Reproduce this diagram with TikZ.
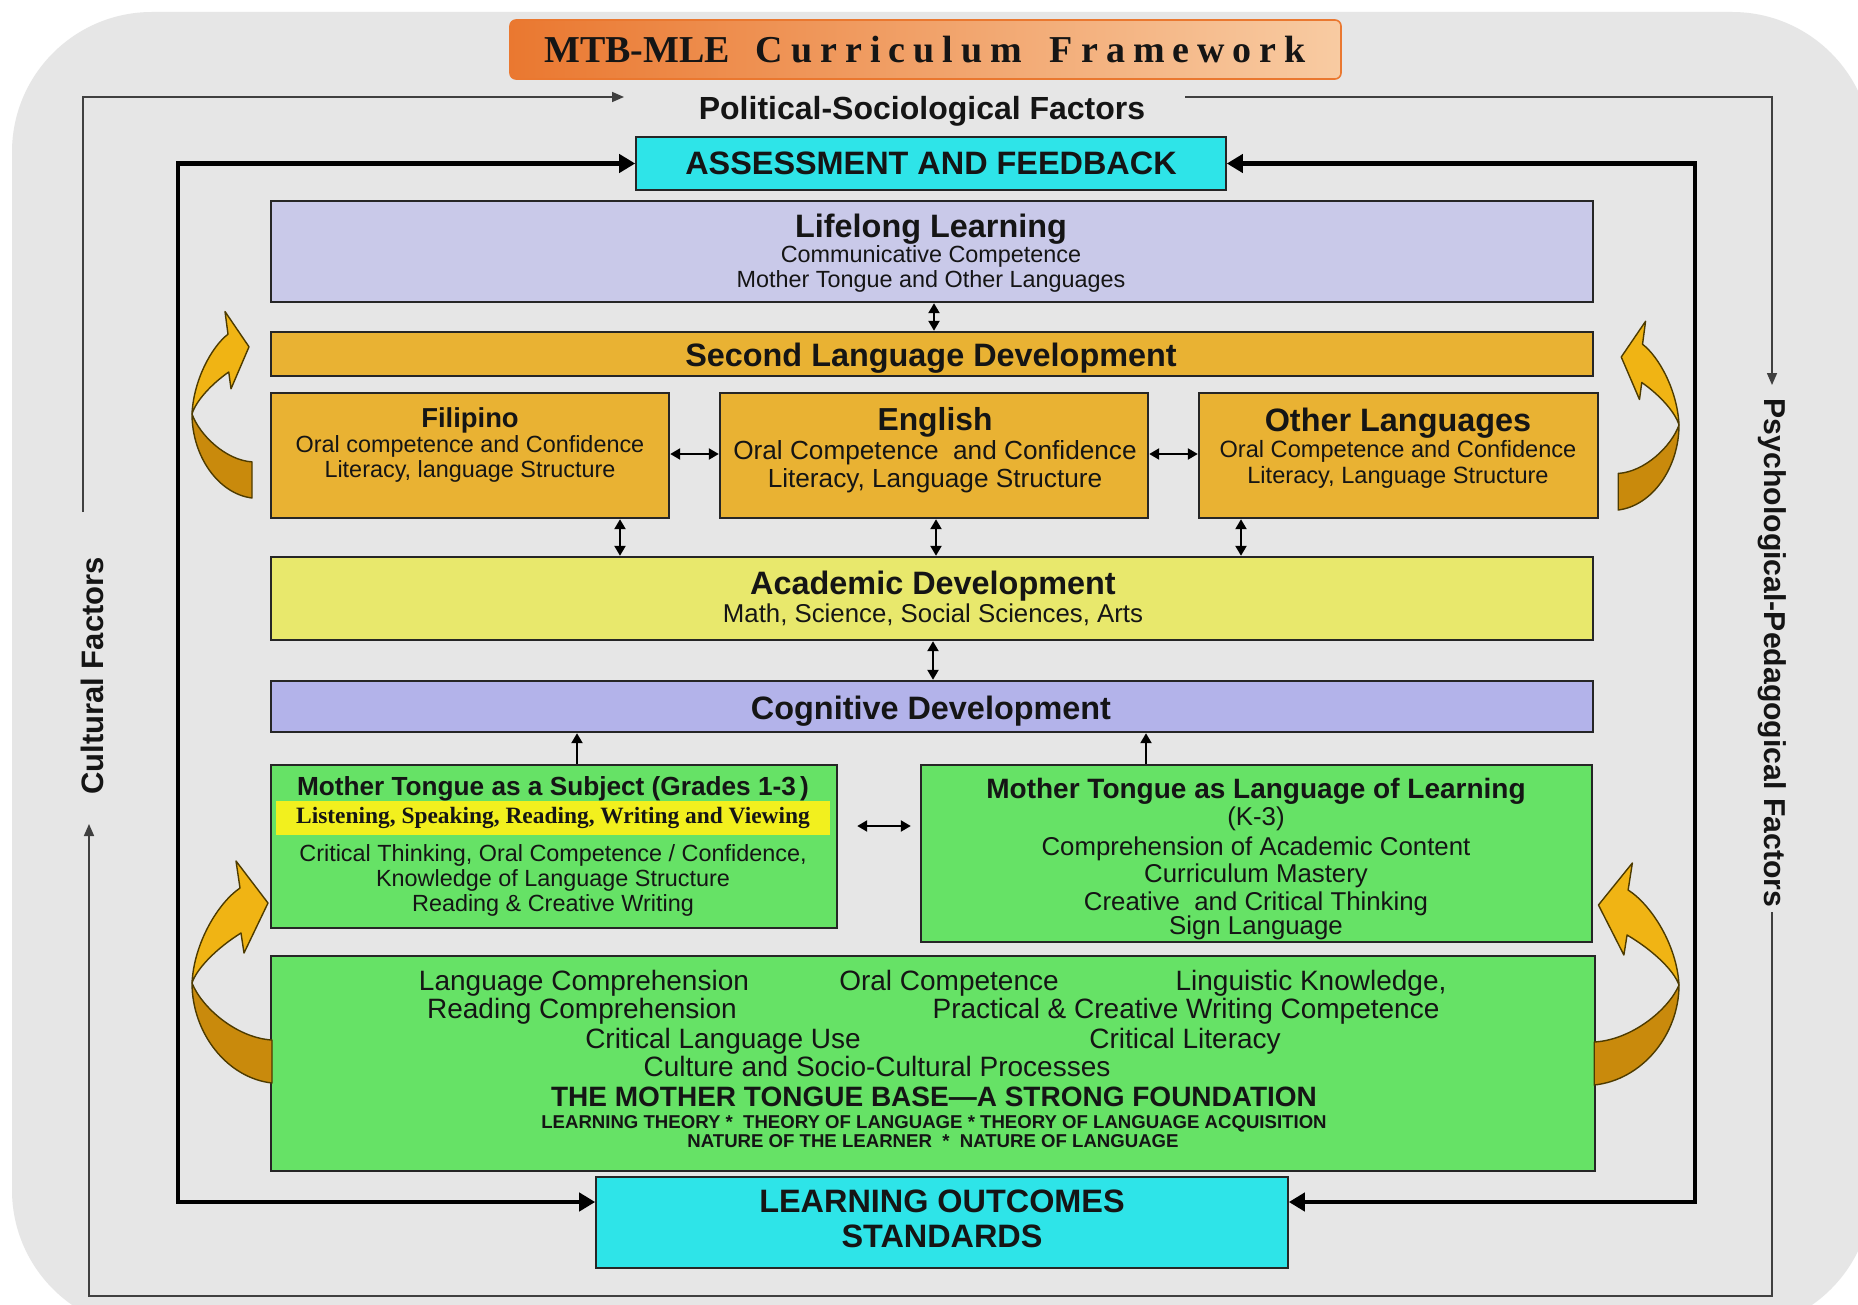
\documentclass[tikz,border=0pt]{standalone}
\usepackage{fontspec}
\setmainfont{Liberation Sans}
\newfontfamily\tmsfont{Liberation Serif}
\usetikzlibrary{arrows.meta,fit,calc}
\definecolor{bg}{HTML}{E6E6E6}
\definecolor{lav}{HTML}{C9C9E9}
\definecolor{lav2}{HTML}{B3B3EA}
\definecolor{gold}{HTML}{E9B233}
\definecolor{acad}{HTML}{E8E86C}
\definecolor{grn}{HTML}{66E266}
\definecolor{cyn}{HTML}{2EE4E8}
\definecolor{band}{HTML}{F2F01E}
\definecolor{txt}{HTML}{151515}
\definecolor{orgA}{HTML}{EA7830}
\definecolor{orgB}{HTML}{F8CBA2}
\definecolor{curlY}{HTML}{F0B414}
\definecolor{curlD}{HTML}{C98A0C}
\definecolor{curlE}{HTML}{4D3B00}
\newcommand\myB[1]{\bfseries\fontsize{#1}{#1}\selectfont}
\newcommand\myR[1]{\fontsize{#1}{#1}\selectfont}
\tikzset{
  curl/.pic={
    \filldraw[fill=curlD, draw=curlE, line width=0.7pt, line join=round]
      (0,0) .. controls (0,50) and (35,95) .. (80,100) -- (80,57)
      .. controls (45,55) and (10,25) .. (0,0) -- cycle;
    \filldraw[fill=curlY, draw=curlE, line width=0.7pt, line join=round]
      (0,0) .. controls (2,-40) and (26,-80) .. (48,-95) -- (44,-122) -- (76,-80)
      -- (52,-30) -- (49,-50) .. controls (25,-35) and (5,-15) .. (0,0) -- cycle;
  }
}
\begin{document}
\begin{tikzpicture}[x=0.5pt,y=-0.5pt,
  box/.style={draw=black!85, line width=1.2pt, inner sep=0pt},
  cbox/.style={draw=black!85, line width=0.8pt, inner sep=0pt, fill=cyn},
  t/.style={inner sep=0pt, anchor=base, text=txt},
  dbl/.style={line width=1.1pt, {Triangle[length=5pt,width=5.5pt]}-{Triangle[length=5pt,width=5.5pt]}},
  upar/.style={line width=1.1pt, -{Triangle[length=5pt,width=5.5pt]}},
  frame/.style={line width=2.4pt, line join=miter, {Triangle[length=8pt,width=9pt]}-{Triangle[length=8pt,width=9pt]}},
  thinl/.style={line width=0.8pt, draw=black!75, -{Triangle[length=6pt,width=5pt]}},
]
\useasboundingbox (0,0) rectangle (1858,1305);
\fill[white] (0,0) rectangle (1858,1305);
\fill[bg, rounded corners=70pt] (12,12) rectangle (1872,1330);

% title
\node[fit={(510,20) (1341,79)}, inner sep=0pt, rounded corners=3pt, left color=orgA, right color=orgB, draw=orgA, line width=0.8pt] (title) {};
\node[t, font={\tmsfont\bfseries\fontsize{19}{19}\selectfont}] (titleT) at (925,63)
  {MTB-MLE\hspace{13pt}{\addfontfeatures{LetterSpace=21}Curriculum}\hspace{14pt}{\addfontfeatures{LetterSpace=21}Framework}};

% outer factors
\node[t, font={\myB{16}}] (pol) at (922,119.5) {Political-Sociological Factors};
\coordinate (tl1) at (83,512); \coordinate (tl2) at (83,97); \coordinate (tl3) at (624,97);
\draw[thinl] (tl1) -- (tl2) -- (tl3);
\coordinate (tr1) at (1185,97); \coordinate (tr2) at (1772,97); \coordinate (tr3) at (1772,385);
\draw[thinl] (tr1) -- (tr2) -- (tr3);
\coordinate (br1) at (1772,912); \coordinate (br2) at (1772,1296); \coordinate (br3) at (89,1296); \coordinate (br4) at (89,824);
\draw[thinl] (br1) -- (br2) -- (br3) -- (br4);
\node[font={\myB{15.5}}, text=txt, rotate=90, inner sep=0pt] (cult) at (92,676) {Cultural Factors};
\node[font={\myB{15.1}}, text=txt, rotate=-90, inner sep=0pt] (psych) at (1772,653) {Psychological-Pedagogical Factors};

% assessment
\node[cbox, fit={(636,137) (1226,190)}] (assess) {};
\node[t, font={\myB{16.2}}] (assessT) at (931,175) {ASSESSMENT AND FEEDBACK};

% lifelong
\node[box, fill=lav, fit={(271,201) (1593,302)}] (life) {};
\node[t, font={\myB{16.2}}] (lifeA) at (931,238) {Lifelong Learning};
\node[t, font={\myR{11.7}}] (lifeB) at (931,263) {Communicative Competence};
\node[t, font={\myR{11.7}}] (lifeC) at (931,288) {Mother Tongue and Other Languages};

% second language
\node[box, fill=gold, fit={(271,332) (1593,376)}] (sld) {};
\node[t, font={\myB{16.2}}] (sldT) at (931,366) {Second Language Development};

% languages
\node[box, fill=gold, fit={(271,393) (669,518)}] (fil) {};
\node[t, font={\myB{13.7}}] (filA) at (470,427) {Filipino};
\node[t, font={\myR{11.7}}] (filB) at (470,452) {Oral competence and Confidence};
\node[t, font={\myR{11.7}}] (filC) at (470,477) {Literacy, language Structure};

\node[box, fill=gold, fit={(720,393) (1148,518)}] (eng) {};
\node[t, font={\myB{15.9}}] (engA) at (935,430) {English};
\node[t, font={\myR{13.1}}] (engB) at (935,459) {Oral Competence\ \ and Confidence};
\node[t, font={\myR{13.1}}] (engC) at (935,487) {Literacy, Language Structure};

\node[box, fill=gold, fit={(1199,393) (1598,518)}] (oth) {};
\node[t, font={\myB{16.2}}] (othA) at (1398,431) {Other Languages};
\node[t, font={\myR{11.8}}] (othB) at (1398,457) {Oral Competence and Confidence};
\node[t, font={\myR{11.8}}] (othC) at (1398,483) {Literacy, Language Structure};

% academic
\node[box, fill=acad, fit={(271,557) (1593,640)}] (acad) {};
\node[t, font={\myB{16.2}}] (acadA) at (933,594) {Academic Development};
\node[t, font={\myR{12.9}}] (acadB) at (933,622) {Math, Science, Social Sciences, Arts};

% cognitive
\node[box, fill=lav2, fit={(271,681) (1593,732)}] (cog) {};
\node[t, font={\myB{16.2}}] (cogT) at (931,719) {Cognitive Development};

% MT as subject
\node[box, fill=grn, fit={(271,765) (837,928)}] (mts) {};
\node[fill=band, inner sep=0pt, fit={(276,801) (830,835)}] (band) {};
\node[t, font={\myB{13.1}}] (mtsA) at (553,795) {Mother Tongue as a Subject (Grades 1-3\,)};
\node[t, font={\tmsfont\bfseries\fontsize{11.7}{11.7}\selectfont}] (mtsB) at (553,823) {Listening, Speaking, Reading, Writing and Viewing};
\node[t, font={\myR{11.7}}] (mtsC) at (553,861) {Critical Thinking, Oral Competence / Confidence,};
\node[t, font={\myR{11.7}}] (mtsD) at (553,886) {Knowledge of Language Structure};
\node[t, font={\myR{11.7}}] (mtsE) at (553,911) {Reading \& Creative Writing};

% MT as language of learning
\node[box, fill=grn, fit={(921,765) (1592,942)}] (mtll) {};
\node[t, font={\myB{14}}] (mtllA) at (1256,798) {Mother Tongue as Language of Learning};
\node[t, font={\myR{12.9}}] (mtllB) at (1256,825) {(K-3)};
\node[t, font={\myR{12.9}}] (mtllC) at (1256,855) {Comprehension of Academic Content};
\node[t, font={\myR{12.9}}] (mtllD) at (1256,882) {Curriculum Mastery};
\node[t, font={\myR{12.9}}] (mtllE) at (1256,910) {Creative\ \ and Critical Thinking};
\node[t, font={\myR{12.9}}] (mtllF) at (1256,934) {Sign Language};

% foundation
\node[box, fill=grn, fit={(271,956) (1595,1171)}] (found) {};
\node[t, font={\myR{14}}] (fa) at (584,990) {Language Comprehension};
\node[t, font={\myR{14}}] (fb) at (949,990) {Oral Competence};
\node[t, font={\myR{14}}] (fc) at (1311,990) {Linguistic Knowledge,};
\node[t, font={\myR{14}}] (fd) at (582,1018) {Reading Comprehension};
\node[t, font={\myR{14}}] (fe) at (1186,1018) {Practical \& Creative Writing Competence};
\node[t, font={\myR{14}}] (ff) at (723,1048) {Critical Language Use};
\node[t, font={\myR{14}}] (fg) at (1185,1048) {Critical Literacy};
\node[t, font={\myR{14}}] (fh) at (877,1076) {Culture and Socio-Cultural Processes};
\node[t, font={\myB{14}}] (fi) at (934,1106) {THE MOTHER TONGUE BASE—A STRONG FOUNDATION};
\node[t, font={\myB{9.3}}] (fj) at (934,1128) {LEARNING THEORY * \ THEORY OF LANGUAGE * THEORY OF LANGUAGE ACQUISITION};
\node[t, font={\myB{9.3}}] (fk) at (933,1147) {NATURE OF THE LEARNER \ * \ NATURE OF LANGUAGE};

% learning outcomes
\node[cbox, fit={(596,1177) (1288,1268)}] (lo) {};
\node[t, font={\myB{16.2}}] (loA) at (942,1212) {LEARNING OUTCOMES};
\node[t, font={\myB{16.2}}] (loB) at (942,1247) {STANDARDS};

% small connectors
\coordinate (cx1) at (934,0);
\draw[dbl] (life.south -| cx1) -- (sld.north -| cx1);
\coordinate (cy1) at (0,454);
\draw[dbl] (fil.east |- cy1) -- (eng.west |- cy1);
\draw[dbl] (eng.east |- cy1) -- (oth.west |- cy1);
\coordinate (cx2) at (620,0);
\draw[dbl] (fil.south -| cx2) -- (acad.north -| cx2);
\coordinate (cx3) at (936,0);
\draw[dbl] (eng.south -| cx3) -- (acad.north -| cx3);
\coordinate (cx4) at (1241,0);
\draw[dbl] (oth.south -| cx4) -- (acad.north -| cx4);
\coordinate (cx5) at (933,0);
\draw[dbl] (acad.south -| cx5) -- (cog.north -| cx5);
\coordinate (cx6) at (577,0);
\draw[upar] (mts.north -| cx6) -- (cog.south -| cx6);
\coordinate (cx7) at (1146,0);
\draw[upar] (mtll.north -| cx7) -- (cog.south -| cx7);
\coordinate (cy2) at (0,826);
\draw[dbl, shorten <=9.5pt, shorten >=4.5pt] (mts.east |- cy2) -- (mtll.west |- cy2);

% thick frame
\coordinate (fTL) at (178,164); \coordinate (fBL) at (178,1202);
\coordinate (fTR) at (1695,164); \coordinate (fBR) at (1695,1202);
\draw[frame] (assess.west) -- (assess.west -| fTL) -- (fBL) -- (lo.west |- fBL);
\draw[frame] (assess.east) -- (assess.east -| fTR) -- (fBR) -- (lo.east |- fBR);

% curved arrows
\pic[xscale=0.75, yscale=0.84] at (192,414) {curl};
\pic at (192,983) {curl};
\pic[xscale=-0.76, yscale=0.85] at (1679,425) {curl};
\pic[xscale=-1.06] at (1679,985) {curl};
\end{tikzpicture}
\end{document}
